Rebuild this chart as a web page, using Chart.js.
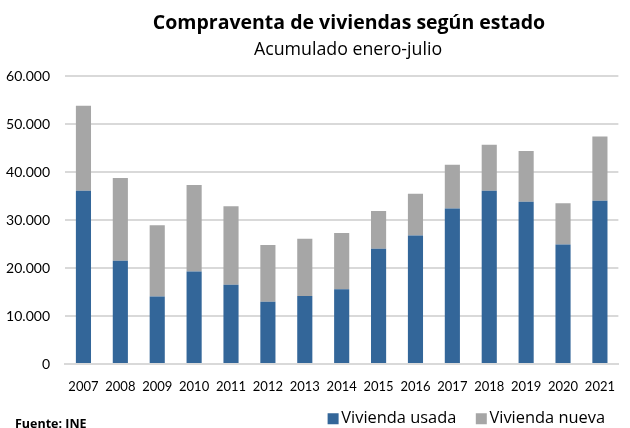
<!DOCTYPE html>
<html>
<head>
<meta charset="utf-8">
<script src="https://cdn.jsdelivr.net/npm/chart.js@4"></script>
<style>
  html, body { margin: 0; padding: 0; background: #fff; }
  #wrap { width: 630px; height: 428px; position: relative; }
</style>
</head>
<body>
<div id="wrap"><canvas id="chart"></canvas></div>
<script>
// datos (acumulado enero-julio)
const years = ["2007", "2008", "2009", "2010", "2011", "2012", "2013", "2014", "2015", "2016", "2017", "2018", "2019", "2020", "2021"];
const viviendaUsada = [36100, 21500, 14100, 19300, 16500, 13000, 14200, 15600, 24000, 26800, 32400, 36100, 33800, 24900, 34000];
const viviendaNueva = [17700, 17250, 14800, 18000, 16400, 11800, 11900, 11700, 7900, 8700, 9100, 9600, 10600, 8600, 13400];
const yTicks = [0, 10000, 20000, 30000, 40000, 50000, 60000];

const titulo = "Compraventa de viviendas según estado";
const subtitulo = "Acumulado enero-julio";
const fuente = "Fuente: INE";

const FONT = "Lato, 'Open Sans', sans-serif";
const FONT2 = "'Open Sans', sans-serif";

// titulo, subtitulo y fuente (el titulo va un poco desplazado a la derecha)
const textosPlugin = {
    id: "textos",
    afterDraw(chart) {
        const c = chart.ctx;
        c.save();
        c.fillStyle = "#000";
        c.textAlign = "center";
        c.textBaseline = "alphabetic";
        c.font = "bold 19.5px " + FONT2;
        c.fillText(titulo, 349, 28.5);
        c.font = "17.8px " + FONT2;
        c.fillText(subtitulo, 348, 55);
        c.textAlign = "left";
        c.font = "bold 12.5px " + FONT2;
        c.fillText(fuente, 15, 427.5);
        c.restore();
    }
};

const ctx = document.getElementById("chart").getContext("2d");
new Chart(ctx, {
    type: "bar",
    data: {
        labels: years,
        datasets: [
            {
                label: "Vivienda usada",
                data: viviendaUsada,
                backgroundColor: "#336699",
                borderWidth: 0
            },
            {
                label: "Vivienda nueva",
                data: viviendaNueva,
                backgroundColor: "#a6a6a6",
                borderWidth: 0
            }
        ]
    },
    options: {
        responsive: true,
        maintainAspectRatio: false,
        animation: false,
        layout: { padding: { left: 0, right: 0, top: 76, bottom: -9 } },
        datasets: { bar: { categoryPercentage: 1, barPercentage: 0.41 } },
        plugins: {
            title: { display: false },
            legend: {
                position: "bottom",
                align: "end",
                labels: {
                    usePointStyle: true,
                    pointStyle: "rect",
                    boxWidth: 0.01,
                    boxHeight: 11,
                    color: "#000",
                    font: { family: FONT2, size: 16.4 },
                    padding: 25
                }
            },
            tooltip: { enabled: false }
        },
        scales: {
            x: {
                stacked: true,
                afterFit(scale) {
                    scale.height = 21.5;
                    // no recortar las etiquetas al alto del eje
                    scale._computeLabelArea = () => undefined;
                },
                grid: { display: false, drawTicks: false },
                border: { color: "#d9d9d9", width: 2 },
                ticks: {
                    color: "#000",
                    padding: 15,
                    font: { family: FONT, size: 13 },
                    maxRotation: 0,
                    autoSkip: false
                }
            },
            y: {
                stacked: true,
                min: 0,
                max: 60000,
                afterFit(scale) { scale.width = 65; },
                afterBuildTicks(scale) { scale.ticks = yTicks.map(v => ({ value: v })); },
                grid: { color: "#d9d9d9", lineWidth: 2, drawTicks: false },
                border: { display: false },
                ticks: {
                    color: "#000",
                    padding: 15,
                    font: { family: FONT, size: 14 },
                    callback: v => v.toLocaleString("de-DE")
                }
            }
        }
    },
    plugins: [textosPlugin]
});
</script>
</body>
</html>
